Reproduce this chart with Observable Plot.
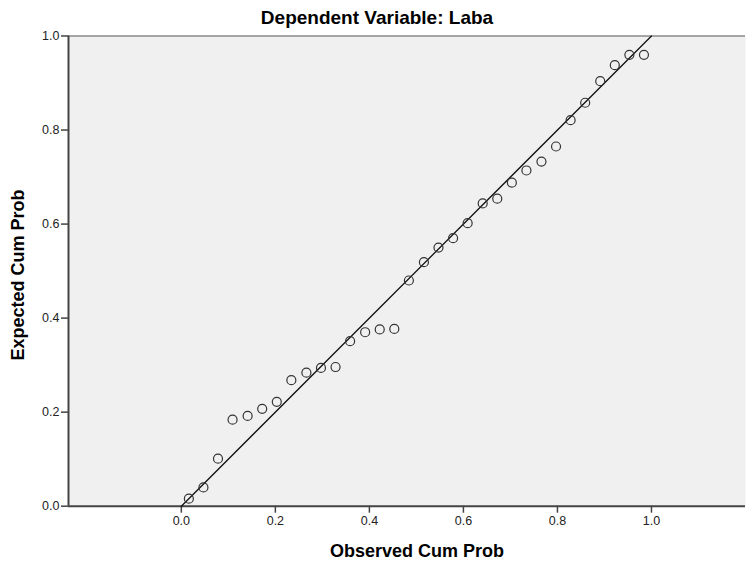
<!DOCTYPE html>
<html><head><meta charset="utf-8">
<script src="https://cdn.jsdelivr.net/npm/d3@7"></script>
<script src="https://cdn.jsdelivr.net/npm/@observablehq/plot@0.6"></script>
<style>
body{margin:0;background:#fff;}
#title{width:754px;height:30px;box-sizing:border-box;padding-top:8px;text-align:center;font:bold 19px "Liberation Sans",Arial,sans-serif;line-height:20px;color:#000;white-space:nowrap;}
</style></head><body>
<div id="title">Dependent Variable: Laba</div>
<div id="chart"></div>
<script>
const observed = [0.016, 0.047, 0.078, 0.109, 0.141, 0.172, 0.203, 0.234, 0.266, 0.297, 0.328, 0.359, 0.391, 0.422, 0.453, 0.484,
                  0.516, 0.547, 0.578, 0.609, 0.641, 0.672, 0.703, 0.734, 0.766, 0.797, 0.828, 0.859, 0.891, 0.922, 0.953, 0.984];
const expected = [0.016, 0.040, 0.101, 0.184, 0.192, 0.207, 0.222, 0.268, 0.284, 0.294, 0.296, 0.351, 0.370, 0.376, 0.377, 0.480,
                  0.519, 0.550, 0.570, 0.602, 0.644, 0.654, 0.688, 0.714, 0.733, 0.765, 0.821, 0.858, 0.904, 0.938, 0.960, 0.960];
const refX = [0, 1];
const refY = [0, 1];
const tickValues = [0, 0.2, 0.4, 0.6, 0.8, 1.0];
const xDomain = [-0.24, 1.2];
const yDomain = [0, 1];
const xLabel = "Observed Cum Prob";
const yLabel = "Expected Cum Prob";

const points = observed.map((o, i) => ({observed: o, expected: expected[i]}));
const ref = refX.map((x, i) => ({x, y: refY[i]}));
const fmt = d3.format(".1f");

const chart = Plot.plot({
  width: 754, height: 534,
  marginTop: 5.5, marginBottom: 58.3, marginLeft: 68, marginRight: 9,
  style: {fontFamily: '"Liberation Sans", Arial, sans-serif', fontSize: "12.5px", color: "#222", background: "transparent", overflow: "visible"},
  x: {domain: xDomain},
  y: {domain: yDomain},
  marks: [
    Plot.frame({fill: "#f0f0f0", stroke: null}),
    Plot.ruleY([1], {stroke: "#8a8a8a", strokeWidth: 1.5}),
    Plot.axisX({ticks: tickValues, tickFormat: fmt, tickSize: 7, tickPadding: 3, stroke: "#444", strokeWidth: 1.5, label: null}),
    Plot.axisY({ticks: tickValues, tickFormat: fmt, tickSize: 7, tickPadding: 2, stroke: "#444", strokeWidth: 1.5, label: null}),
    Plot.ruleX([xDomain[0]], {stroke: "#444", strokeWidth: 2}),
    Plot.ruleY([0], {stroke: "#444", strokeWidth: 2}),
    Plot.line(ref, {x: "x", y: "y", stroke: "#111", strokeWidth: 1.3}),
    Plot.dot(points, {x: "observed", y: "expected", r: 4.5, stroke: "#333", strokeWidth: 1.2, fill: "none"}),
    Plot.text([xLabel], {text: d => d, frameAnchor: "bottom", dy: 51, dx: 10, textAnchor: "middle", fontWeight: "bold", fontSize: 18, fill: "#000"}),
    Plot.text([yLabel], {text: d => d, frameAnchor: "left", dx: -50, dy: 4, rotate: -90, textAnchor: "middle", fontWeight: "bold", fontSize: 18, fill: "#000"})
  ]
});
document.getElementById("chart").appendChild(chart);
</script>
</body></html>
